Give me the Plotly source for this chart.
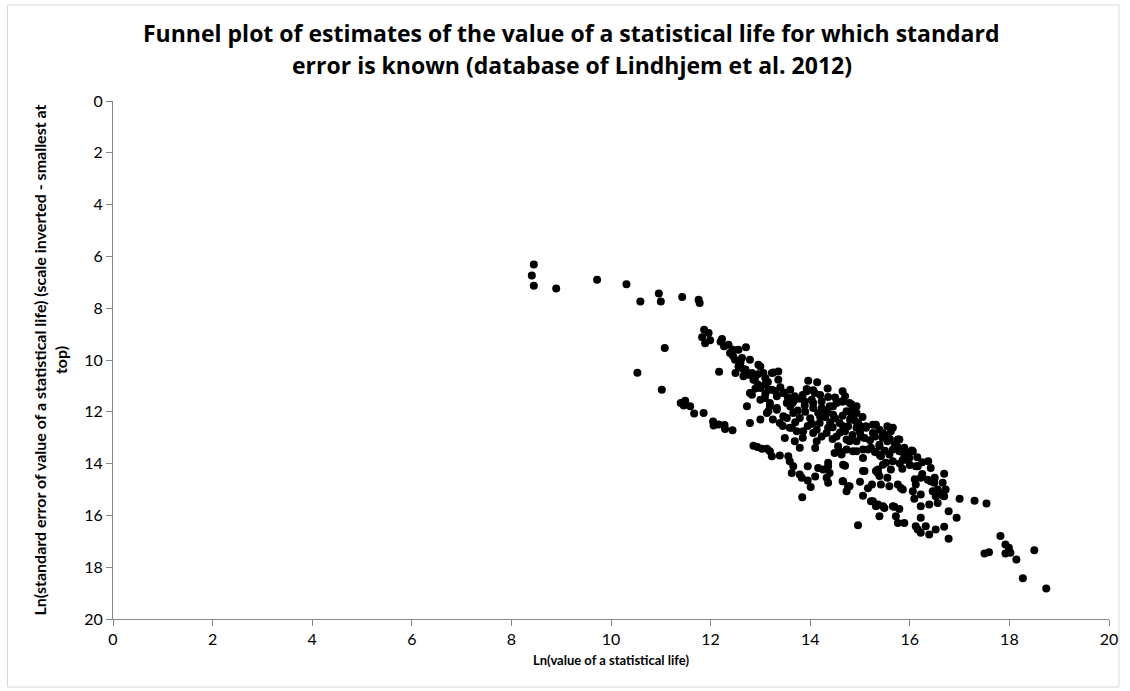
import plotly.graph_objects as go

# Ln(VSL), Ln(SE) pairs — isolated estimates at small values of a statistical life
left_tail = [
    (8.45, 6.31), (8.41, 6.74), (8.45, 7.13), (8.90, 7.24), (9.72, 6.90), (10.31, 7.08),
    (10.59, 7.74), (10.96, 7.43), (11.00, 7.74), (11.43, 7.57), (11.76, 7.67), (11.78, 7.80),
    (11.08, 9.54), (10.53, 10.49), (11.02, 11.15), (12.17, 10.45),
]

# upper (main) band of estimates
upper_band = [
    (11.87, 8.83), (11.96, 8.96), (11.83, 9.12), (11.99, 9.24), (11.89, 9.35), (12.23, 9.19),
    (12.36, 9.41), (12.27, 9.47), (12.39, 9.73), (12.56, 9.60), (12.71, 9.51), (12.49, 9.99),
    (12.63, 9.92), (12.79, 9.99), (12.56, 10.25), (12.70, 10.37), (12.66, 10.63), (12.83, 10.50),
    (12.86, 10.76), (12.96, 10.18), (13.00, 10.25), (13.06, 10.50), (13.26, 10.48), (13.36, 10.44),
    (13.36, 10.76), (12.89, 10.76), (12.76, 10.57), (13.23, 10.50), (13.09, 10.95), (13.23, 11.15),
    (13.00, 11.08), (13.16, 11.15), (13.46, 11.27), (13.47, 11.25), (13.69, 11.40), (13.93, 11.21),
    (14.09, 11.27), (13.89, 11.60), (14.06, 11.66), (13.53, 11.66), (13.33, 11.92), (13.46, 12.17),
    (13.66, 12.05), (13.79, 12.24), (13.39, 12.43), (13.59, 12.62), (13.73, 12.75), (13.49, 13.01),
    (13.69, 13.14), (13.79, 13.39), (13.16, 11.98), (13.19, 11.66), (13.00, 11.53), (12.79, 11.27),
    (12.83, 11.34), (13.09, 11.47), (13.33, 11.40), (12.73, 11.79), (12.79, 12.43), (13.00, 12.30),
    (13.13, 12.05), (13.19, 11.79), (13.33, 11.85), (13.69, 11.53), (13.89, 11.76), (14.06, 11.85),
    (14.03, 11.53), (13.96, 10.80), (14.14, 10.86), (13.93, 11.12), (14.06, 11.17), (14.36, 11.43),
    (14.65, 11.21), (14.63, 11.60), (14.79, 11.66), (14.93, 11.79), (14.46, 11.79), (14.26, 11.92),
    (14.16, 12.05), (14.23, 11.85), (14.39, 11.79), (14.53, 11.66), (14.66, 11.60), (14.83, 11.72),
    (14.93, 12.05), (14.46, 12.11), (14.59, 12.43), (14.76, 12.56), (14.93, 12.62), (14.19, 12.43),
    (14.13, 12.69), (14.33, 12.82), (14.53, 12.95), (14.73, 13.07), (14.93, 13.14), (15.09, 13.01),
    (15.12, 12.56), (15.26, 12.50), (15.39, 12.69), (15.55, 12.56), (15.62, 12.75), (15.76, 13.07),
    (15.55, 13.14), (15.39, 13.27), (15.22, 13.39), (15.06, 13.46), (14.86, 13.52), (15.39, 13.65),
    (15.59, 13.65), (15.79, 13.52), (15.86, 13.85), (15.66, 13.91), (15.46, 14.04), (15.62, 14.23),
    (14.83, 12.17), (14.73, 11.98), (14.04, 12.46), (14.06, 12.82), (14.13, 13.14), (14.23, 12.95),
    (13.63, 12.62), (13.86, 12.75), (13.53, 12.24), (14.96, 12.43), (15.12, 12.62), (15.26, 12.82),
    (15.02, 12.95), (14.79, 13.14), (14.56, 13.33), (14.59, 13.52), (14.73, 13.46), (14.93, 13.52),
    (15.16, 13.46), (15.06, 13.78), (15.32, 12.50), (15.46, 12.82), (15.79, 13.07), (15.39, 13.33),
    (15.66, 13.46), (15.86, 13.56), (16.04, 13.49), (15.99, 13.78), (16.16, 14.10), (16.37, 13.91),
    (16.42, 14.17), (16.69, 14.39), (15.66, 12.62), (15.89, 13.39), (16.06, 13.52), (15.92, 13.85),
    (16.12, 14.10), (15.42, 13.72), (15.52, 13.97), (15.36, 14.36), (14.66, 12.56), (14.36, 12.62),
    (14.23, 11.60), (14.50, 12.25), (14.80, 12.30), (15.00, 12.80), (15.20, 13.10), (14.40, 12.40),
    (14.60, 12.80), (14.30, 12.20), (13.90, 12.00), (13.60, 11.80), (13.75, 11.95), (14.00, 12.25),
    (14.45, 13.05), (15.45, 13.00), (15.70, 13.25), (15.05, 12.20), (14.85, 11.95), (13.85, 11.35),
    (13.55, 11.45), (13.30, 11.20), (13.10, 10.70), (12.95, 10.55), (12.60, 10.10), (12.45, 9.85),
    (13.25, 12.30), (13.45, 12.55), (13.85, 13.00), (14.10, 13.40), (16.25, 14.40), (16.10, 14.60),
    (15.85, 14.20), (16.50, 14.55),
    (13.15, 10.85), (13.40, 11.05), (13.60, 11.15), (13.80, 11.50), (14.20, 11.35), (14.35, 11.10),
    (14.50, 11.45), (14.70, 11.40), (14.20, 12.20), (14.35, 12.00), (14.65, 12.15), (14.90, 12.35),
    (15.00, 12.55), (14.45, 12.60), (14.70, 12.75), (14.85, 12.90), (15.30, 12.95), (15.50, 12.90),
    (15.60, 13.05), (15.75, 13.35), (15.50, 13.50), (15.30, 13.55), (15.95, 13.60), (16.15, 13.75),
    (16.25, 13.95), (16.00, 14.05), (15.80, 14.00), (13.70, 12.40), (13.95, 12.55), (13.65, 11.65),
    (12.95, 10.95), (13.10, 11.30), (12.90, 11.10), (12.65, 10.35), (12.50, 10.50), (12.45, 9.60),
    (12.20, 9.30),
]

# lower band of estimates
lower_band = [
    (11.40, 11.66), (11.49, 11.57), (11.46, 11.76), (11.59, 11.79), (11.67, 12.07), (11.86, 12.05),
    (12.05, 12.37), (12.06, 12.53), (12.16, 12.49), (12.28, 12.51), (12.29, 12.66), (12.44, 12.71),
    (12.86, 13.31), (12.94, 13.36), (13.03, 13.43), (13.13, 13.43), (13.19, 13.52), (13.23, 13.72),
    (13.39, 13.69), (13.56, 13.72), (13.59, 13.91), (13.66, 14.10), (13.63, 14.36), (13.79, 14.42),
    (13.83, 14.55), (13.95, 14.10), (14.01, 14.90), (13.84, 15.30), (14.16, 14.17), (14.26, 14.23),
    (14.36, 13.97), (14.39, 14.36), (14.33, 14.55), (14.36, 14.74), (14.49, 13.59), (14.63, 13.65),
    (14.70, 14.08), (14.66, 14.68), (14.79, 14.87), (14.73, 15.07), (15.06, 15.24), (15.09, 14.29),
    (15.24, 14.81), (15.32, 14.29), (15.39, 14.48), (15.55, 14.55), (15.22, 15.45), (15.32, 15.65),
    (15.46, 15.65), (15.66, 15.65), (14.66, 14.04), (15.06, 14.29), (15.36, 14.23), (15.59, 14.87),
    (15.76, 14.81), (15.86, 15.00), (16.06, 15.07), (16.12, 14.81), (16.22, 14.55), (16.36, 14.62),
    (16.49, 14.74), (16.66, 14.74), (16.72, 15.00), (16.59, 15.13), (16.46, 15.07), (16.22, 15.19),
    (16.09, 15.36), (16.52, 15.26), (16.69, 15.26), (14.65, 14.68), (14.76, 14.87), (15.26, 15.45),
    (15.36, 15.58), (15.49, 15.71), (15.69, 15.67), (15.79, 15.75), (15.39, 16.03), (15.72, 16.03),
    (15.76, 16.29), (15.89, 16.29), (16.12, 16.42), (16.22, 16.09), (16.22, 15.65), (16.39, 15.58),
    (16.56, 15.52), (16.78, 15.84), (16.94, 16.09), (16.69, 16.44), (16.52, 16.54), (16.39, 16.74),
    (16.22, 16.67), (16.16, 16.54), (16.32, 16.42), (16.78, 16.90), (14.96, 16.38), (15.82, 14.94),
    (15.42, 14.81), (16.42, 14.68), (16.56, 15.00), (16.66, 15.23), (14.36, 14.10), (15.16, 14.95),
    (15.00, 14.70), (14.10, 14.50), (13.95, 14.65),
]

# isolated estimates at large values of a statistical life
right_tail = [
    (17.00, 15.36), (17.30, 15.43), (17.54, 15.54), (17.82, 16.80), (17.92, 17.12), (17.99, 17.25),
    (18.02, 17.44), (17.92, 17.47), (17.50, 17.47), (17.59, 17.42), (18.14, 17.70), (18.50, 17.35),
    (18.27, 18.43), (18.74, 18.82),
]

x_ticks = [0, 2, 4, 6, 8, 10, 12, 14, 16, 18, 20]
y_ticks = [0, 2, 4, 6, 8, 10, 12, 14, 16, 18, 20]

points = left_tail + upper_band + lower_band + right_tail
ln_vsl = [p[0] for p in points]
ln_se = [p[1] for p in points]

FONT = "Lato"
TITLE_FONT = "Open Sans"
AXIS_GREY = "#868686"

fig = go.Figure(
    go.Scatter(
        x=ln_vsl,
        y=ln_se,
        mode="markers",
        marker=dict(size=8, color="black", line=dict(width=0)),
        showlegend=False,
    )
)

W, H = 1130, 691
L, R, T, B = 113, 16, 101, 72
pw, ph = W - L - R, H - T - B


def px_x(px):
    return (px - L) / pw


def px_y(py):
    return (H - B - py) / ph


fig.update_layout(
    width=W,
    height=H,
    margin=dict(l=L, r=R, t=T, b=B),
    paper_bgcolor="white",
    plot_bgcolor="white",
    font=dict(family=FONT, color="black"),
    xaxis=dict(
        range=[0, 20],
        tickvals=x_ticks,
        ticks="outside",
        ticklen=6,
        tickcolor=AXIS_GREY,
        showline=True,
        linecolor=AXIS_GREY,
        linewidth=1,
        showgrid=False,
        zeroline=False,
        tickfont=dict(size=16, family=FONT, color="black"),
        title=dict(
            text="<b>Ln(value of a statistical life)</b>",
            font=dict(size=13, family=FONT),
            standoff=8,
        ),
    ),
    yaxis=dict(
        range=[20, 0],
        tickvals=y_ticks,
        ticks="outside",
        ticklen=6,
        tickcolor=AXIS_GREY,
        showline=True,
        linecolor=AXIS_GREY,
        linewidth=1,
        showgrid=False,
        zeroline=False,
        tickfont=dict(size=16, family=FONT, color="black"),
        title=dict(
            text="<b>Ln(standard error of value of a statistical life) (scale inverted - smallest at<br>top)</b>",
            font=dict(size=16, family=FONT),
            standoff=12,
        ),
    ),
    shapes=[
        dict(
            type="rect",
            xref="paper",
            yref="paper",
            x0=px_x(7),
            x1=px_x(1124),
            y0=px_y(687),
            y1=px_y(5),
            line=dict(color="#d9d9d9", width=1),
            fillcolor="rgba(0,0,0,0)",
            layer="below",
        )
    ],
    annotations=[
        dict(
            text="<b>Funnel plot of estimates of the value of a statistical life for which standard</b>",
            xref="paper",
            yref="paper",
            x=px_x(574),
            y=px_y(33),
            showarrow=False,
            xanchor="center",
            yanchor="middle",
            font=dict(size=23, family=TITLE_FONT, color="black"),
        ),
        dict(
            text="<b>error is known (database of Lindhjem et al. 2012)</b>",
            xref="paper",
            yref="paper",
            x=px_x(574),
            y=px_y(65),
            showarrow=False,
            xanchor="center",
            yanchor="middle",
            font=dict(size=23, family=TITLE_FONT, color="black"),
        ),
    ],
)

fig.write_html("out.html")
